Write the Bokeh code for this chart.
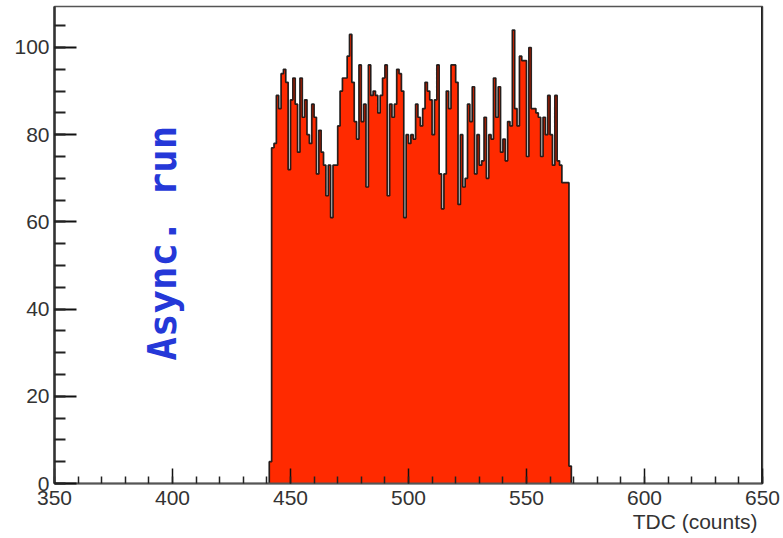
import math
from bokeh.plotting import figure
from bokeh.models import Range1d, Label, Span, FixedTicker, Title
from bokeh.embed import file_html
from bokeh.resources import INLINE

# ---- data ----
bin_low = list(range(441, 569))  # lower edge of each 1-count TDC bin
counts = [
    5, 77, 78, 89, 86, 94, 95, 92, 72, 88,
    93, 87, 76, 93, 84, 88, 80, 78, 87, 84,
    71, 81, 76, 73, 66, 73, 61, 73, 73, 82,
    90, 93, 93, 98, 103, 92, 83, 79, 96, 83,
    87, 68, 96, 89, 90, 89, 85, 89, 93, 96,
    66, 87, 84, 87, 95, 94, 90, 61, 80, 78,
    80, 79, 87, 84, 82, 86, 92, 90, 88, 80,
    88, 96, 71, 63, 71, 90, 86, 96, 96, 92,
    64, 80, 68, 70, 87, 83, 91, 71, 80, 73,
    74, 84, 70, 80, 79, 93, 84, 91, 76, 79,
    74, 83, 82, 104, 86, 82, 98, 97, 97, 75,
    100, 86, 86, 85, 84, 75, 84, 80, 89, 80,
    73, 89, 74, 73, 69, 69, 69, 4,
]
x_ticks = [350, 400, 450, 500, 550, 600, 650]
x_minor = list(range(350, 651, 10))
y_ticks = [0, 20, 40, 60, 80, 100]
y_minor = list(range(0, 110, 5))
x_title = "TDC (counts)"
note_text = "Async. run"

p = figure(width=783, height=538, output_backend="svg", toolbar_location=None,
           x_range=Range1d(350, 650), y_range=Range1d(0, 109.4),
           min_border_left=54, min_border_right=21, min_border_top=6,
           min_border_bottom=55)
p.grid.visible = False
p.background_fill_color = "white"
p.border_fill_color = "white"
p.outline_line_color = "#555555"
p.outline_line_width = 1.5

# histogram fill (continuous step area)
edges = bin_low + [bin_low[-1] + 1]
tops = counts + [counts[-1]]
p.varea_step(x=edges, y1=[0] * len(edges), y2=tops, step_mode="after",
             fill_color="#ff2a00")

# histogram outline (step)
step_x = [bin_low[0]] + edges + [edges[-1]]
step_y = [0] + tops + [0]
p.step(x=step_x, y=step_y, mode="after", line_color="#111111",
       line_width=1.7, line_alpha=0.9)

# axes styling (ROOT-like inward ticks)
font = "Liberation Sans"
xa = p.xaxis[0]
xa.ticker = FixedTicker(ticks=x_ticks, minor_ticks=x_minor)
xa.major_tick_in = 15
xa.major_tick_out = 0
xa.minor_tick_in = 7
xa.minor_tick_out = 0
xa.major_tick_line_color = "#111111"
xa.minor_tick_line_color = "#222222"
xa.major_tick_line_width = 1.5
xa.minor_tick_line_width = 1.5
xa.axis_line_color = "#555555"
xa.axis_line_width = 2
xa.major_label_text_font = font
xa.major_label_text_font_size = "21px"
xa.major_label_text_color = "#333333"
xa.major_label_standoff = 7

ya = p.yaxis[0]
ya.ticker = FixedTicker(ticks=y_ticks, minor_ticks=y_minor)
ya.major_tick_in = 22
ya.major_tick_out = 0
ya.minor_tick_in = 11
ya.minor_tick_out = 0
ya.major_tick_line_color = "#111111"
ya.minor_tick_line_color = "#222222"
ya.major_tick_line_width = 1.8
ya.minor_tick_line_width = 1.8
ya.axis_line_color = "#333333"
ya.axis_line_width = 2.5
ya.major_label_text_font = font
ya.major_label_text_font_size = "21px"
ya.major_label_text_color = "#333333"
ya.major_label_standoff = 5

# thick right frame edge
p.add_layout(Span(location=650, dimension="height", line_color="#222222", line_width=3))

# x-axis title, right aligned under the axis end
p.add_layout(Title(text=x_title, align="right", offset=5, standoff=0,
                   text_font=font, text_font_size="21px",
                   text_font_style="normal", text_color="#333333"), "below")

# rotated annotation
p.add_layout(Label(x=108, y=123, x_units="screen", y_units="screen", text=note_text,
                   angle=math.pi / 2, text_font="DejaVu Sans Mono",
                   text_font_style="bold", text_font_size="39px",
                   text_color="#2538d8", text_align="left",
                   text_baseline="alphabetic"))

open("out.html", "w").write(file_html(p, INLINE))
